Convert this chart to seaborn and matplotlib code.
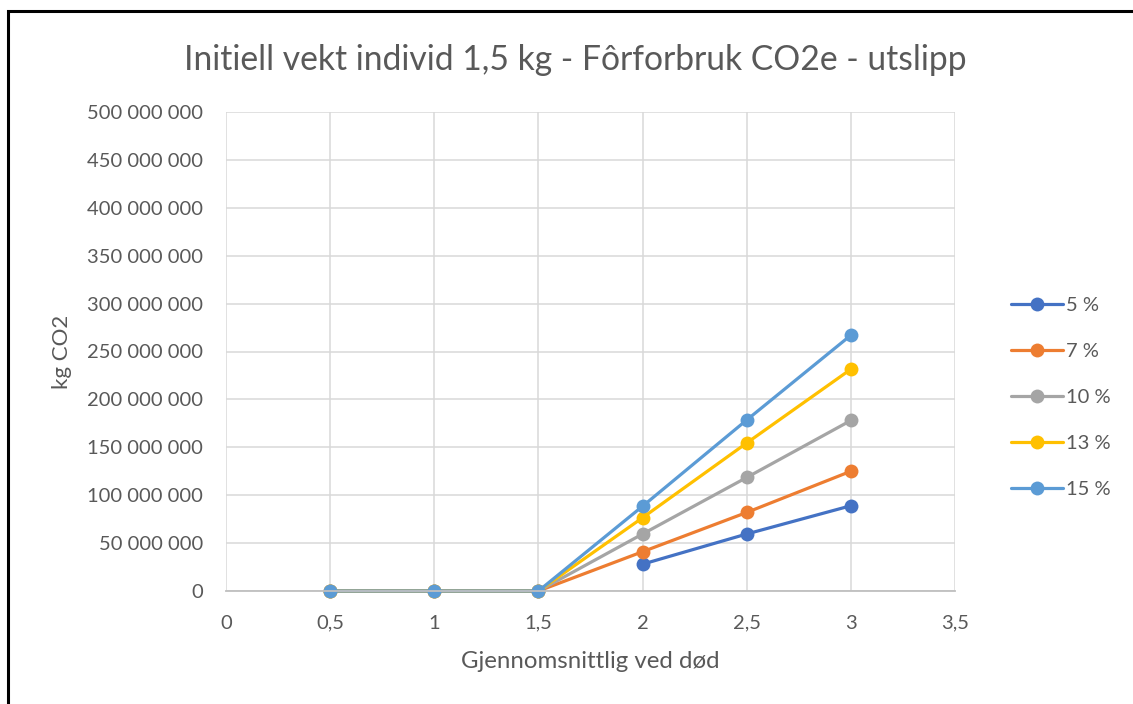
import numpy as np
import pandas as pd
import matplotlib
matplotlib.use("Agg")
import matplotlib.pyplot as plt
from matplotlib.lines import Line2D
from matplotlib.patches import Rectangle
from matplotlib.ticker import FuncFormatter, MultipleLocator
import seaborn as sns

# ---- data ----
x_values = [0.5, 1.0, 1.5, 2.0, 2.5, 3.0]
series_names = ["5 %", "7 %", "10 %", "13 %", "15 %"]
s5 = [np.nan, np.nan, np.nan, 28e6, 59.5e6, 89e6]
s7 = [0, 0, 0, 41e6, 82e6, 125e6]
s10 = [0, 0, 0, 59.5e6, 118.5e6, 178e6]
s13 = [0, 0, 0, 76.5e6, 154.5e6, 231.5e6]
s15 = [0, 0, 0, 88.5e6, 178.5e6, 267e6]
colors = ["#4472C4", "#ED7D31", "#A5A5A5", "#FFC000", "#5B9BD5"]

title = "Initiell vekt individ 1,5 kg - Fôrforbruk CO2e - utslipp"
xlabel = "Gjennomsnittlig ved død"
ylabel = "kg CO2"

rows = []
for name, vals in zip(series_names, [s5, s7, s10, s13, s15]):
    for xv, yv in zip(x_values, vals):
        rows.append({"x": xv, "y": yv, "serie": name})
df = pd.DataFrame(rows)

sns.set_theme(style="white")
plt.rcParams["font.family"] = ["Lato", "DejaVu Sans"]

W, H = 1133, 704
fig = plt.figure(figsize=(W / 100, H / 100), dpi=100)
ax = fig.add_axes([226 / W, 1 - 591 / H, (955 - 226) / W, (591 - 112) / H])

palette = dict(zip(series_names, colors))
sns.lineplot(data=df.dropna(), x="x", y="y", hue="serie", hue_order=series_names,
             palette=palette, estimator=None, sort=True, marker="o",
             markersize=10, markeredgewidth=0, linewidth=2.3, legend=False, ax=ax)
for ln in ax.get_lines():
    ln.set_clip_on(False)

ax.set_xlim(0, 3.5)
ax.set_ylim(0, 500e6)
ax.xaxis.set_major_locator(MultipleLocator(0.5))
ax.yaxis.set_major_locator(MultipleLocator(50e6))

def yfmt(v, pos):
    return f"{int(round(v)):,}".replace(",", " ")

def xfmt(v, pos):
    s = f"{v:g}"
    return s.replace(".", ",")

ax.yaxis.set_major_formatter(FuncFormatter(yfmt))
ax.xaxis.set_major_formatter(FuncFormatter(xfmt))

ax.grid(True, color="#d9d9d9", linewidth=1.1)
ax.set_axisbelow(True)
for side in ["top", "right", "left"]:
    ax.spines[side].set_visible(False)
ax.spines["bottom"].set_color("#bfbfbf")
ax.spines["bottom"].set_linewidth(1.3)
ax.tick_params(axis="both", length=0, labelsize=14.5, labelcolor="#595959")
ax.tick_params(axis="y", pad=16.5)
ax.tick_params(axis="x", pad=17)

ax.set_xlabel(xlabel, fontsize=17.3, color="#595959")
ax.set_ylabel(ylabel, fontsize=16, color="#595959")
ax.xaxis.set_label_coords(0.5, (591 - 662) / 479)
ax.yaxis.set_label_coords((62 - 226) / 729, 0.5)
ax.xaxis.label.set_va("center")
ax.yaxis.label.set_va("center")

fig.text(575 / W, 1 - 60 / H, title, ha="center", va="center", fontsize=24.2, color="#595959")

handles = [Line2D([0], [0], color=c, linewidth=2.3, marker="o", markersize=10,
                  markeredgewidth=0) for c in colors]
leg = fig.legend(handles, series_names, loc="center left",
                 bbox_to_anchor=(993 / W, 1 - 397.5 / H), frameon=False,
                 numpoints=1, handlelength=2.6, handletextpad=0.1,
                 labelspacing=1.44, fontsize=14.5)
for t in leg.get_texts():
    t.set_color("#595959")

border = Rectangle((8 / W, -0.05), 1.2, 1 - 11 / H + 0.05, transform=fig.transFigure,
                   fill=False, edgecolor="black", linewidth=2.2)
fig.patches.append(border)

fig.savefig("out.png", dpi=100, facecolor="white")
